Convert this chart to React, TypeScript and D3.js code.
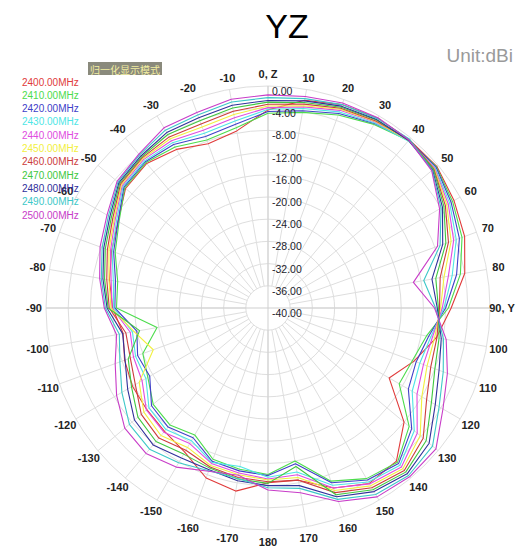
import { useEffect, useRef } from "react";
import * as d3 from "d3";

// angles, degrees clockwise from the Z axis (top)
const angleDeg = [
  0, 10, 20, 30, 40, 50, 60, 70, 80, 90, 100, 110, 120, 130, 140, 150, 160, 170,
  180, 190, 200, 210, 220, 230, 240, 250, 260, 270, 280, 290, 300, 310, 320, 330, 340, 350,
];

const angleLabels = [
  "0, Z", "10", "20", "30", "40", "50", "60", "70", "80", "90, Y", "100", "110", "120", "130",
  "140", "150", "160", "170", "180", "-170", "-160", "-150", "-140", "-130", "-120", "-110",
  "-100", "-90", "-80", "-70", "-60", "-50", "-40", "-30", "-20", "-10",
];

const ringValues = [0, -4, -8, -12, -16, -20, -24, -28, -32, -36, -40];
const ringLabels = ["0.00", "-4.00", "-8.00", "-12.00", "-16.00", "-20.00", "-24.00", "-28.00", "-32.00", "-36.00", "-40.00"];

const freqLabels = [
  "2400.00MHz", "2410.00MHz", "2420.00MHz", "2430.00MHz", "2440.00MHz", "2450.00MHz",
  "2460.00MHz", "2470.00MHz", "2480.00MHz", "2490.00MHz", "2500.00MHz",
];

// normalized gain (dB) per frequency, one value per angleDeg
const g2400 = [-4.3, -2.0, -1.0, -0.5, -0.4, -0.3, -1.3, -2.3, -4.0, -7.0, -9.2, -12.0, -14.8, -8.0, -4.0, -3.5, -5.5, -8.5, -8.5, -6.5, -7.4, -10.0, -11.0, -11.5, -11.8, -12.5, -13.5, -12.0, -11.0, -10.0, -8.8, -6.5, -6.0, -7.0, -8.5, -7.6];
const g2410 = [-4.9, -4.2, -3.0, -1.8, -0.6, -0.4, -1.6, -2.8, -4.8, -7.5, -11.0, -12.3, -12.7, -6.8, -3.7, -4.5, -6.8, -12.0, -10.0, -10.5, -11.0, -13.6, -12.5, -13.0, -15.0, -16.0, -19.7, -12.7, -12.5, -10.7, -9.0, -6.3, -5.8, -6.5, -7.8, -7.0];
const g2420 = [-4.6, -3.9, -2.7, -1.6, -0.5, -0.5, -1.9, -3.3, -5.5, -8.0, -10.6, -11.6, -10.8, -6.2, -3.4, -4.2, -6.5, -11.5, -9.8, -10.2, -10.6, -13.0, -12.0, -12.6, -15.4, -15.0, -16.0, -12.4, -12.1, -10.4, -8.8, -6.1, -5.6, -6.0, -7.1, -6.4];
const g2430 = [-4.2, -3.5, -2.4, -1.5, -0.7, -0.7, -2.2, -3.9, -6.3, -8.3, -10.2, -10.9, -10.0, -5.6, -3.0, -3.8, -6.0, -10.0, -9.5, -11.0, -10.4, -12.4, -11.4, -12.0, -14.6, -14.6, -15.2, -12.2, -11.7, -10.1, -8.5, -5.9, -5.4, -5.6, -6.5, -5.8];
const g2440 = [-3.9, -3.2, -2.1, -1.3, -0.5, -0.8, -2.5, -4.4, -7.0, -8.6, -9.9, -10.2, -9.0, -4.9, -2.6, -3.4, -5.5, -9.5, -9.2, -9.8, -10.2, -11.8, -10.8, -11.4, -13.8, -14.2, -14.8, -11.9, -11.3, -9.8, -8.2, -5.7, -5.1, -5.2, -5.9, -5.2];
const g2450 = [-3.6, -3.0, -1.9, -1.2, -0.6, -0.9, -2.8, -4.9, -7.8, -8.9, -9.5, -9.5, -8.0, -4.2, -2.2, -3.0, -5.0, -9.0, -9.0, -9.5, -9.8, -11.0, -10.0, -10.8, -13.2, -18.0, -15.5, -11.7, -10.9, -9.5, -8.0, -5.5, -4.9, -4.8, -5.3, -4.6];
const g2460 = [-3.3, -2.7, -1.7, -1.1, -0.4, -1.0, -3.1, -5.4, -8.5, -9.1, -9.1, -8.8, -7.0, -3.5, -1.8, -2.6, -4.6, -8.5, -8.7, -9.0, -9.5, -10.4, -9.4, -10.2, -12.4, -13.6, -14.0, -11.4, -10.5, -9.2, -7.7, -5.3, -4.7, -4.4, -4.7, -4.0];
const g2470 = [-2.9, -2.4, -1.5, -0.9, -0.5, -1.1, -3.4, -5.9, -9.3, -9.3, -8.7, -8.0, -6.0, -2.8, -1.4, -2.2, -4.2, -11.0, -8.4, -8.7, -9.3, -9.6, -8.6, -9.4, -11.6, -13.2, -16.5, -11.2, -10.1, -8.8, -7.4, -5.1, -4.5, -3.9, -4.1, -3.4];
const g2480 = [-2.6, -2.1, -1.3, -0.8, -0.6, -1.3, -3.7, -6.5, -10.0, -9.5, -8.3, -7.2, -5.2, -2.1, -1.0, -1.8, -3.8, -7.5, -8.0, -8.4, -9.0, -8.8, -7.8, -8.6, -10.8, -12.6, -13.4, -11.0, -9.8, -8.5, -7.1, -4.9, -4.3, -3.5, -3.5, -2.9];
const g2490 = [-2.1, -1.7, -1.0, -0.6, -0.3, -1.4, -4.0, -7.0, -11.5, -9.8, -7.9, -6.4, -4.4, -1.3, -0.6, -1.2, -3.3, -7.0, -7.6, -8.8, -8.8, -7.8, -6.8, -7.4, -9.6, -11.6, -12.8, -10.7, -9.5, -8.2, -6.8, -4.7, -4.0, -3.0, -3.0, -2.3];
const g2500 = [-1.6, -1.3, -0.7, -0.4, -0.5, -1.5, -4.3, -7.5, -13.4, -10.0, -7.4, -5.6, -3.6, -0.5, -0.3, -0.7, -2.9, -6.2, -7.2, -9.4, -8.7, -6.9, -5.8, -6.3, -8.5, -10.7, -12.3, -10.5, -9.2, -7.8, -6.5, -4.5, -3.8, -2.5, -2.5, -1.8];

const seriesData = [g2400, g2410, g2420, g2430, g2440, g2450, g2460, g2470, g2480, g2490, g2500];
const seriesColors = [
  "#e03a3a", "#4cdc4c", "#4040c8", "#4ee6e6", "#e04ce0", "#f2f040",
  "#cc3c3c", "#40c840", "#30309a", "#3cc8c8", "#c83cc8",
];

export default function App() {
  const svgRef = useRef(null);

  useEffect(() => {
    const width = 527;
    const height = 547;
    const cx = 268;
    const cy = 308;
    const R = 222;

    const svg = d3.select(svgRef.current).attr("width", width).attr("height", height);
    svg.selectAll("*").remove();

    const rScale = d3.scaleLinear().domain([-40, 0]).range([0, R]);
    const toRad = (d) => (d * Math.PI) / 180;

    svg
      .append("text")
      .attr("x", 287)
      .attr("y", 38)
      .attr("text-anchor", "middle")
      .style("font-family", "Arial, 'Liberation Sans', sans-serif")
      .style("font-size", "34px")
      .attr("fill", "#000")
      .text("YZ");

    svg
      .append("text")
      .attr("x", 513)
      .attr("y", 62)
      .attr("text-anchor", "end")
      .style("font-family", "Arial, 'Liberation Sans', sans-serif")
      .style("font-size", "19px")
      .attr("fill", "#9a9a9a")
      .text("Unit:dBi");

    const g = svg.append("g").attr("transform", "translate(" + cx + "," + cy + ")");

    // rings
    g.append("g")
      .selectAll("circle")
      .data(ringValues.filter((v) => v > -40))
      .join("circle")
      .attr("r", (d) => rScale(d))
      .attr("fill", "none")
      .attr("stroke", "#dedede")
      .attr("stroke-width", 1);

    // spokes
    g.append("g")
      .selectAll("line")
      .data(angleDeg)
      .join("line")
      .attr("x1", (d) => rScale(-36) * Math.sin(toRad(d)))
      .attr("y1", (d) => -rScale(-36) * Math.cos(toRad(d)))
      .attr("x2", (d) => R * Math.sin(toRad(d)))
      .attr("y2", (d) => -R * Math.cos(toRad(d)))
      .attr("stroke", "#dedede")
      .attr("stroke-width", 1);

    // main axes through centre
    g.append("g")
      .selectAll("line")
      .data([0, 90])
      .join("line")
      .attr("x1", (d) => -R * Math.sin(toRad(d)))
      .attr("y1", (d) => R * Math.cos(toRad(d)))
      .attr("x2", (d) => R * Math.sin(toRad(d)))
      .attr("y2", (d) => -R * Math.cos(toRad(d)))
      .attr("stroke", "#cfcfcf")
      .attr("stroke-width", 1);

    // angle labels
    g.append("g")
      .selectAll("text")
      .data(angleDeg)
      .join("text")
      .attr("x", (d) => 234 * Math.sin(toRad(d)))
      .attr("y", (d) => -234 * Math.cos(toRad(d)))
      .attr("text-anchor", "middle")
      .attr("dominant-baseline", "central")
      .style("font-family", "Arial, 'Liberation Sans', sans-serif")
      .style("font-size", "11px")
      .style("font-weight", "bold")
      .attr("fill", "#222")
      .text((d, i) => angleLabels[i]);

    // curves
    const line = d3
      .lineRadial()
      .angle((d, i) => toRad(angleDeg[i]))
      .radius((d) => rScale(d))
      .curve(d3.curveLinearClosed);

    g.append("g")
      .selectAll("path")
      .data(seriesData)
      .join("path")
      .attr("d", (d) => line(d))
      .attr("fill", "none")
      .attr("stroke", (d, i) => seriesColors[i])
      .attr("stroke-width", 1.1)
      .attr("stroke-linejoin", "round");

    // ring labels
    g.append("g")
      .selectAll("text")
      .data(ringValues)
      .join("text")
      .attr("x", 4)
      .attr("y", (d) => -rScale(d) + 5)
      .attr("dominant-baseline", "central")
      .style("font-family", "Arial, 'Liberation Sans', sans-serif")
      .style("font-size", "10.5px")
      .attr("fill", "#1c1c2c")
      .text((d, i) => ringLabels[i]);

    // mode badge
    svg
      .append("rect")
      .attr("x", 88)
      .attr("y", 62)
      .attr("width", 74)
      .attr("height", 13)
      .attr("fill", "#8a8a7c");
    svg
      .append("text")
      .attr("x", 125)
      .attr("y", 69)
      .attr("text-anchor", "middle")
      .attr("dominant-baseline", "central")
      .style("font-family", "'Noto Sans CJK SC', sans-serif")
      .style("font-size", "10px")
      .attr("fill", "#f2eea0")
      .text("归一化显示模式");

    // legend
    svg
      .append("g")
      .selectAll("text")
      .data(freqLabels)
      .join("text")
      .attr("x", 22)
      .attr("y", (d, i) => 82 + i * 13.3)
      .attr("dominant-baseline", "central")
      .style("font-family", "Arial, 'Liberation Sans', sans-serif")
      .style("font-size", "10px")
      .attr("fill", (d, i) => seriesColors[i])
      .text((d) => d);
  }, []);

  return (
    <div style={{ position: "absolute", left: 0, top: 0, background: "#fff" }}>
      <svg ref={svgRef}></svg>
    </div>
  );
}
